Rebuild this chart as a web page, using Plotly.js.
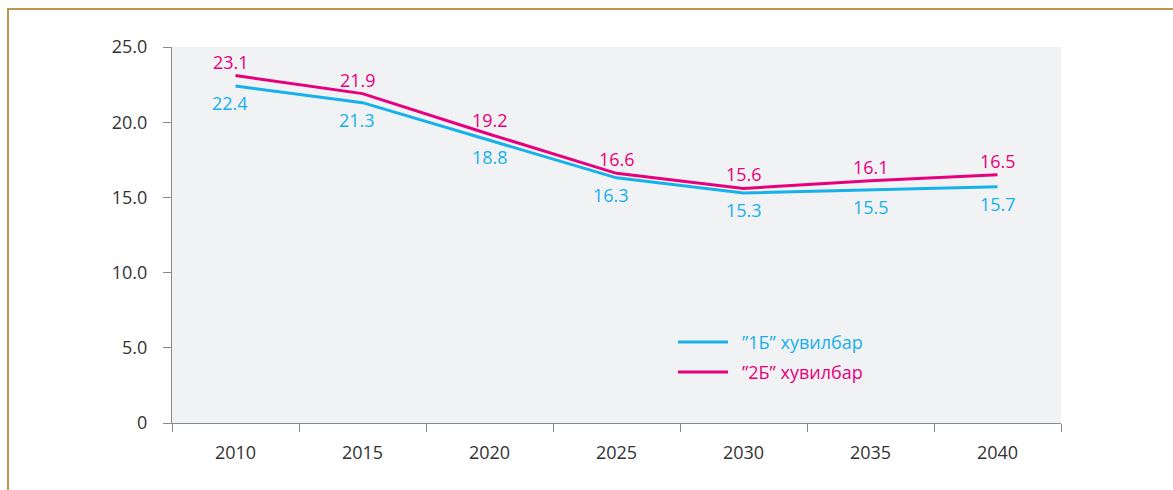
<!DOCTYPE html>
<html>
<head>
<meta charset="utf-8">
<script src="https://cdn.plot.ly/plotly-3.0.1.min.js"></script>
<style>
html,body{margin:0;padding:0;background:#fff;}
#wrap{position:relative;width:1173px;height:490px;}
#frame{position:absolute;left:7px;top:8px;width:1180px;height:500px;border-top:2px solid #b9984f;border-left:2px solid #b9984f;box-sizing:border-box;pointer-events:none;}
#chart{position:absolute;left:0;top:0;width:1173px;height:490px;}
</style>
</head>
<body>
<div id="wrap">
<div id="chart"></div>
<div id="frame"></div>
</div>
<script>
const years = ['2010','2015','2020','2025','2030','2035','2040'];
const series1 = [22.4, 21.3, 18.8, 16.3, 15.3, 15.5, 15.7];
const series2 = [23.1, 21.9, 19.2, 16.6, 15.6, 16.1, 16.5];
const names = ['”1Б” хувилбар', '”2Б” хувилбар'];
const yTickVals = [0, 5, 10, 15, 20, 25];
const yTickText = ['0', '5.0', '10.0', '15.0', '20.0', '25.0'];

const blue = '#16b1eb';
const pink = '#e6007e';
const colors = [blue, pink];
const font = 'Open Sans, Noto Sans, sans-serif';
const fs = 18;

const traces = [
  {
    x: years, y: series1, name: names[0], type: 'scatter', mode: 'lines',
    line: {color: blue, width: 3}, showlegend: false, cliponaxis: false
  },
  {
    x: years, y: series2, name: names[1], type: 'scatter', mode: 'lines',
    line: {color: pink, width: 3}, showlegend: false, cliponaxis: false
  }
];

const annotations = [];
years.forEach((yr, i) => {
  annotations.push({
    x: i, y: series1[i], xref: 'x', yref: 'y', text: series1[i].toFixed(1),
    showarrow: false, yshift: -17, xshift: i < 2 ? -6 : (i === 3 ? -6 : 0),
    font: {size: fs, color: blue, family: font}
  });
  annotations.push({
    x: i, y: series2[i], xref: 'x', yref: 'y', text: series2[i].toFixed(1),
    showarrow: false, yshift: 14, xshift: i < 2 ? -5 : 0,
    font: {size: fs, color: pink, family: font}
  });
});

// custom legend (coloured text, long line samples)
const legY = [0.2154, 0.1356];
const shapes = [];
names.forEach((n, k) => {
  shapes.push({
    type: 'line', xref: 'paper', yref: 'paper',
    x0: 0.5692, x1: 0.6254, y0: legY[k], y1: legY[k],
    line: {color: colors[k], width: 3}
  });
  annotations.push({
    xref: 'paper', yref: 'paper', x: 0.6389, y: legY[k],
    xanchor: 'left', yanchor: 'middle', text: n, showarrow: false,
    font: {size: fs, color: colors[k], family: font}
  });
});

const layout = {
  width: 1173, height: 490,
  margin: {l: 172, r: 112, t: 47, b: 67},
  paper_bgcolor: 'rgba(0,0,0,0)',
  plot_bgcolor: '#f1f2f4',
  font: {family: font, size: fs, color: '#333'},
  showlegend: false,
  annotations: annotations,
  shapes: shapes,
  xaxis: {
    type: 'category',
    categoryorder: 'array', categoryarray: years,
    range: [-0.5, years.length - 0.5],
    tickson: 'boundaries',
    ticks: 'outside', ticklen: 8, tickcolor: '#8a8a8a', tickwidth: 1,
    showline: true, linecolor: '#8a8a8a', linewidth: 1,
    showgrid: false, zeroline: false,
    ticklabelstandoff: 13,
    tickangle: 0,
    tickfont: {size: fs, color: '#333', family: font},
    fixedrange: true
  },
  yaxis: {
    range: [0, 25],
    tickvals: yTickVals, ticktext: yTickText,
    ticks: 'outside', ticklen: 8, tickcolor: '#8a8a8a', tickwidth: 1,
    showline: true, linecolor: '#8a8a8a', linewidth: 1,
    showgrid: false, zeroline: false,
    ticklabelstandoff: 12,
    tickfont: {size: fs, color: '#333', family: font},
    fixedrange: true
  }
};

Plotly.newPlot('chart', traces, layout, {displayModeBar: false, staticPlot: true});
</script>
</body>
</html>
